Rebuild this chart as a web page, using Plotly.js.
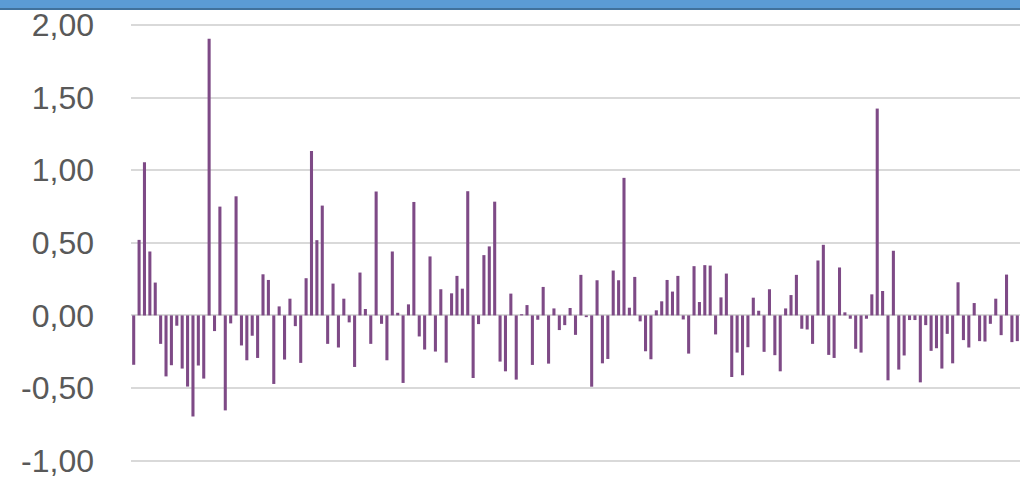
<!DOCTYPE html>
<html>
<head>
<meta charset="utf-8">
<script src="https://cdn.plot.ly/plotly-3.0.1.min.js"></script>
<style>
html,body{margin:0;padding:0;background:#fff;overflow:hidden;}
#wrap{position:relative;width:1020px;height:478px;overflow:hidden;}
#band{position:absolute;left:0;top:0;width:1020px;height:8px;background:#5b9bd5;border-bottom:2px solid #41719c;z-index:5;}
#chart{position:absolute;left:0;top:0;width:1020px;height:500px;}
</style>
</head>
<body>
<div id="wrap"><div id="chart"></div><div id="band"></div></div>
<script>
const values = [
 -0.34, 0.52, 1.055, 0.44, 0.226, -0.196, -0.42, -0.343, -0.071, -0.366,
 -0.49, -0.696, -0.345, -0.435, 1.905, -0.108, 0.749, -0.654, -0.055, 0.82,
 -0.207, -0.309, -0.14, -0.293, 0.283, 0.244, -0.472, 0.062, -0.304, 0.115,
 -0.074, -0.327, 0.256, 1.131, 0.518, 0.756, -0.196, 0.219, -0.221, 0.115,
 -0.048, -0.355, 0.295, 0.044, -0.196, 0.853, -0.058, -0.309, 0.44, 0.018,
 -0.465, 0.076, 0.781, -0.145, -0.235, 0.406, -0.249, 0.18, -0.325, 0.152,
 0.272, 0.184, 0.855, -0.431, -0.06, 0.415, 0.475, 0.783, -0.318, -0.385,
 0.15, -0.442, 0.008, 0.071, -0.341, -0.03, 0.196, -0.332, 0.048, -0.101,
 -0.067, 0.051, -0.134, 0.279, -0.012, -0.491, 0.242, -0.33, -0.3, 0.309,
 0.242, 0.947, 0.053, 0.265, -0.041, -0.247, -0.302, 0.035, 0.097, 0.244,
 0.164, 0.272, -0.028, -0.263, 0.339, 0.092, 0.346, 0.343, -0.131, 0.124,
 0.288, -0.424, -0.256, -0.412, -0.219, 0.122, 0.032, -0.251, 0.18, -0.274,
 -0.385, 0.048, 0.14, 0.279, -0.092, -0.097, -0.196, 0.378, 0.486, -0.272,
 -0.293, 0.33, 0.021, -0.023, -0.23, -0.256, -0.023, 0.145, 1.424, 0.168,
 -0.447, 0.445, -0.373, -0.276, -0.032, -0.032, -0.461, -0.067, -0.244, -0.226,
 -0.366, -0.127, -0.33, 0.228, -0.17, -0.221, 0.085, -0.177, -0.18, -0.058,
 0.115, -0.136, 0.281, -0.184, -0.177
];
const categories = values.map((_, i) => i + 1);
const tickValues = [-1, -0.5, 0, 0.5, 1, 1.5, 2];
const tickLabels = ['-1,00', '-0,50', '0,00', '0,50', '1,00', '1,50', '2,00'];

Plotly.newPlot('chart', [{
  type: 'bar',
  x: categories,
  y: values,
  marker: {color: '#7e4a86', line: {width: 0}},
  hoverinfo: 'none'
}], {
  width: 1020, height: 500,
  margin: {l: 131, r: 0, t: 22, b: 35, pad: 0},
  paper_bgcolor: '#ffffff', plot_bgcolor: '#ffffff',
  bargap: 0.43,
  showlegend: false,
  xaxis: {
    type: 'linear',
    range: [0.5, categories.length + 0.5],
    showgrid: false, zeroline: false, showline: false,
    showticklabels: false, ticks: ''
  },
  yaxis: {
    range: [-1.03, 2.02],
    tickvals: tickValues,
    ticktext: tickLabels,
    showgrid: true, gridcolor: '#d9d9d9', gridwidth: 2,
    zeroline: false, showline: false,
    ticks: '',
    ticklabelstandoff: 36,
    automargin: false,
    tickfont: {family: 'Liberation Sans, Arial, sans-serif', size: 32, color: '#595959'}
  }
}, {staticPlot: true});
</script>
</body>
</html>
